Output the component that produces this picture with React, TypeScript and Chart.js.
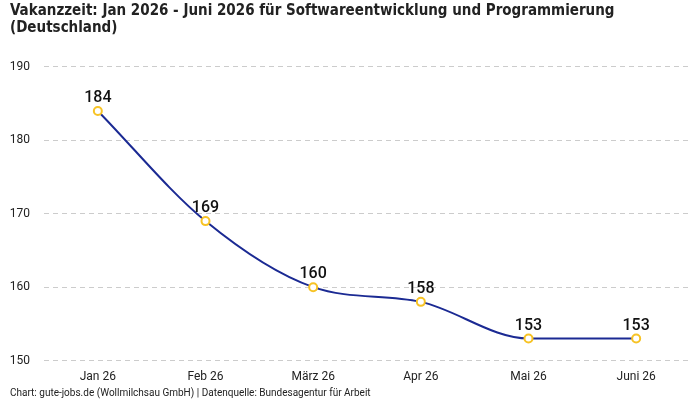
import React, { useEffect, useRef } from "react";
import { Chart, registerables } from "chart.js";

Chart.register(...registerables);

const categories = ["Jan 26", "Feb 26", "März 26", "Apr 26", "Mai 26", "Juni 26"];
const vacancyDays = [184, 169, 160, 158, 153, 153];
const yTicks = [150, 160, 170, 180, 190];
const titleLines = [
  "Vakanzzeit: Jan 2026 - Juni 2026 für Softwareentwicklung und Programmierung",
  "(Deutschland)",
];
const footerText = "Chart: gute-jobs.de (Wollmilchsau GmbH) | Datenquelle: Bundesagentur für Arbeit";

const labelPlugin = {
  id: "valueLabels",
  afterDatasetsDraw(chart: any) {
    const ctx = chart.ctx;
    const meta = chart.getDatasetMeta(0);
    ctx.save();
    ctx.font = "500 16px Roboto, sans-serif";
    ctx.fillStyle = "#111111";
    ctx.textAlign = "center";
    ctx.textBaseline = "alphabetic";
    meta.data.forEach((pt: any, i: number) => {
      ctx.fillText(String(chart.data.datasets[0].data[i]), pt.x, pt.y - 9);
    });
    ctx.restore();
  },
};

const footerPlugin = {
  id: "footerText",
  afterDraw(chart: any) {
    const ctx = chart.ctx;
    ctx.save();
    ctx.font = "10px Roboto, sans-serif";
    ctx.fillStyle = "#222222";
    ctx.textAlign = "left";
    ctx.textBaseline = "middle";
    ctx.fillText(footerText, 10, chart.height - 7);
    ctx.restore();
  },
};

export default function App() {
  const ref = useRef<HTMLCanvasElement | null>(null);
  useEffect(() => {
    if (!ref.current) return;
    const chart = new Chart(ref.current, {
      type: "line",
      data: {
        labels: categories,
        datasets: [
          {
            data: vacancyDays,
            borderColor: "#1b2a93",
            borderWidth: 2,
            cubicInterpolationMode: "monotone",
            pointRadius: 4,
            pointBorderWidth: 2,
            pointBackgroundColor: "#ffffff",
            pointBorderColor: "#f7c325",
            fill: false,
          },
        ],
      },
      options: {
        animation: false,
        responsive: false,
        maintainAspectRatio: false,
        layout: { padding: { left: 10, right: 10, top: 0, bottom: 7 } },
        plugins: {
          legend: { display: false },
          tooltip: { enabled: false },
          title: {
            display: true,
            text: titleLines,
            align: "start",
            color: "#222222",
            font: { family: "'DejaVu Sans Condensed', sans-serif", size: 15, weight: "bold", lineHeight: 1.13 },
            padding: { top: 3, bottom: 30 },
          },
        },
        scales: {
          x: {
            offset: true,
            grid: { display: false, drawTicks: false },
            border: { display: false },
            ticks: { color: "#222222", font: { family: "Roboto, sans-serif", size: 12, lineHeight: 1.2 }, padding: 9 },
          },
          y: {
            min: yTicks[0],
            max: yTicks[yTicks.length - 1],
            afterBuildTicks: (axis: any) => {
              axis.ticks = yTicks.map((v) => ({ value: v }));
            },
            afterFit: (axis: any) => {
              axis.width = 34;
            },
            grid: { color: "#cccccc", drawTicks: false },
            border: { display: false, dash: [5, 4] },
            ticks: { color: "#222222", font: { family: "Roboto, sans-serif", size: 12 }, padding: 14 },
          },
        },
      },
      plugins: [labelPlugin, footerPlugin],
    });
    return () => chart.destroy();
  }, []);
  return (
    <div style={{ position: "fixed", left: 0, top: 0, width: 700, height: 400, background: "#fff" }}>
      <canvas ref={ref} width={700} height={400} />
    </div>
  );
}
